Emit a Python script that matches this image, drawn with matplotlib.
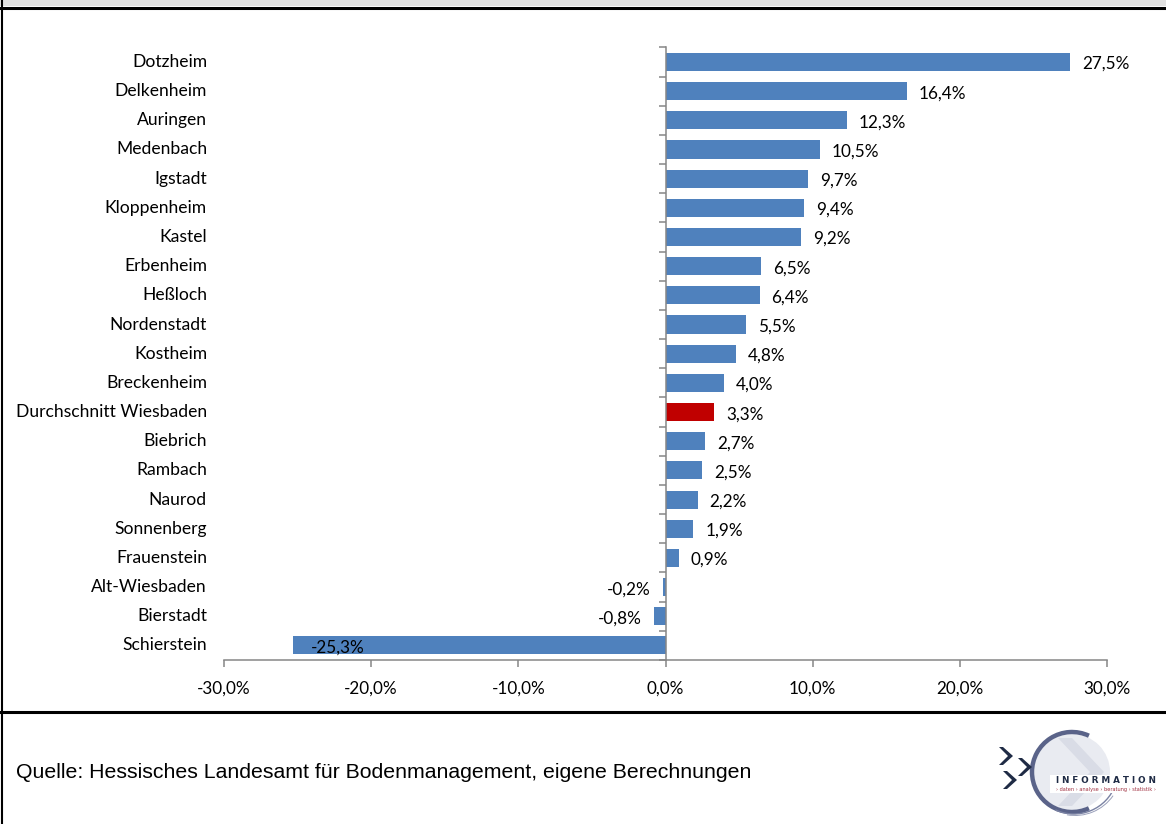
import matplotlib.pyplot as plt
import matplotlib.patches as mpatches
import matplotlib.transforms as mtransforms
from matplotlib.lines import Line2D
from matplotlib.ticker import FixedLocator

# Stadtteile und Veraenderung in %
stadtteile = ["Dotzheim", "Delkenheim", "Auringen", "Medenbach", "Igstadt",
              "Kloppenheim", "Kastel", "Erbenheim", "Heßloch", "Nordenstadt",
              "Kostheim", "Breckenheim", "Durchschnitt Wiesbaden", "Biebrich",
              "Rambach", "Naurod", "Sonnenberg", "Frauenstein", "Alt-Wiesbaden",
              "Bierstadt", "Schierstein"]
werte = [27.5, 16.4, 12.3, 10.5, 9.7, 9.4, 9.2, 6.5, 6.4, 5.5, 4.8, 4.0,
         3.3, 2.7, 2.5, 2.2, 1.9, 0.9, -0.2, -0.8, -25.3]
x_ticks = [-30, -20, -10, 0, 10, 20, 30]

blau = "#4F81BD"
rot = "#C00000"
grau = "#868686"
farben = [rot if s.startswith("Durchschnitt") else blau for s in stadtteile]

fig = plt.figure(figsize=(11.66, 8.24), dpi=100)
W, H = 1166, 824

def fx(px):
    return px / W

def fy(py):
    return 1 - py / H

# Rahmen
fig.patches.append(mpatches.Rectangle((0, fy(6)), 1, 6 / H, transform=fig.transFigure,
                                      facecolor="#e0e0e0", edgecolor="none"))
fig.lines.append(Line2D([0, 1], [fy(7.5), fy(7.5)], transform=fig.transFigure, color="black", lw=2.2))
fig.lines.append(Line2D([0, 1], [fy(712), fy(712)], transform=fig.transFigure, color="black", lw=2.2))
fig.lines.append(Line2D([fx(1.5), fx(1.5)], [0, 1], transform=fig.transFigure, color="black", lw=1.5))

ax = fig.add_axes([fx(224), fy(660), fx(1107) - fx(224), (660 - 47.4) / H])
y = list(range(len(stadtteile)))
ax.barh(y, werte, height=0.62, color=farben)
ax.set_xlim(-30, 30)
ax.set_ylim(len(stadtteile) - 0.5, -0.5)

for s in ["top", "right"]:
    ax.spines[s].set_visible(False)
ax.spines["left"].set_position(("data", 0))
ax.spines["left"].set_color(grau)
ax.spines["bottom"].set_color(grau)
ax.spines["left"].set_linewidth(1.1)
ax.spines["bottom"].set_linewidth(1.1)

ax.set_xticks(x_ticks)
ax.set_xticklabels([f"{v:.1f}%".replace(".", ",") for v in x_ticks])
ax.tick_params(axis="x", length=5, width=1.1, color=grau, pad=10, labelsize=12.3)
for t in ax.get_xticklabels():
    t.set_fontfamily("Lato")

ax.set_yticks([])
ax.yaxis.set_minor_locator(FixedLocator([i - 0.5 for i in range(len(stadtteile) + 1)]))
ax.tick_params(axis="y", which="minor", length=5, width=1.1, color=grau, left=True)

# Kategorienbeschriftung links
trans = mtransforms.blended_transform_factory(ax.transAxes, ax.transData)
for i, s in enumerate(stadtteile):
    ax.text(-17 / 883, i, s, transform=trans, ha="right", va="center",
            fontsize=12.6, fontfamily="Lato")

# Wertebeschriftung
for i, v in enumerate(werte):
    txt = f"{v:.1f}%".replace(".", ",")
    if v >= 0:
        ax.annotate(txt, (v, i), xytext=(8.5, -1.5), textcoords="offset points",
                    ha="left", va="center", fontsize=12.3, fontfamily="Lato")
    elif v < -20:
        ax.annotate(txt, (v, i), xytext=(13, -1.5), textcoords="offset points",
                    ha="left", va="center", fontsize=12.3, fontfamily="Lato")
    else:
        ax.annotate(txt, (v, i), xytext=(-8.5, -1.5), textcoords="offset points",
                    ha="right", va="center", fontsize=12.3, fontfamily="Lato")

# Quelle
fig.text(fx(16), fy(773), "Quelle: Hessisches Landesamt für Bodenmanagement, eigene Berechnungen",
         ha="left", va="center", fontsize=15.3, fontfamily="Liberation Sans")

# Logo (vereinfacht), Koordinaten in Pixeln
lax = fig.add_axes([fx(990), fy(822), fx(176), 100 / H])
lax.set_xlim(990, 1166)
lax.set_ylim(822, 722)
lax.axis("off")
lax.add_patch(mpatches.Circle((1072, 772), 38, facecolor="#e9ebf1", edgecolor="none"))
lax.add_patch(mpatches.Polygon([[1058, 738], [1090, 772], [1058, 806], [1072, 806], [1104, 772], [1072, 738]],
                               facecolor="#d9dce6", edgecolor="none"))
lax.add_patch(mpatches.Arc((1072, 772), 80, 80, theta1=65, theta2=295, color="#5a6389", lw=3.2))
lax.add_patch(mpatches.Arc((1074, 770), 88, 88, theta1=20, theta2=115, color="#7a82a3", lw=1.0))
lax.add_patch(mpatches.Arc((1075, 769), 93, 93, theta1=35, theta2=100, color="#9aa0ba", lw=0.7))
for cx, cy in [(1008, 756), (1027, 767), (1012, 780)]:
    lax.add_patch(mpatches.Polygon([[cx - 5, cy - 9], [cx + 5, cy], [cx - 5, cy + 9], [cx - 9, cy + 9],
                                    [cx, cy], [cx - 9, cy - 9]],
                                   facecolor="#1f2b45", edgecolor="none"))
lax.add_patch(mpatches.Rectangle((1050, 775), 112, 18, facecolor="white", edgecolor="none"))
lax.text(1106, 781, "I N F O R M A T I O N", ha="center", va="center", fontsize=6.3,
         fontfamily="DejaVu Sans", fontweight="bold", color="#1f2b45")
lax.text(1106, 790, "› daten › analyse › beratung › statistik ›", ha="center", va="center",
         fontsize=3.6, fontfamily="DejaVu Sans", color="#a03040")

fig.savefig("out.png", dpi=100)
